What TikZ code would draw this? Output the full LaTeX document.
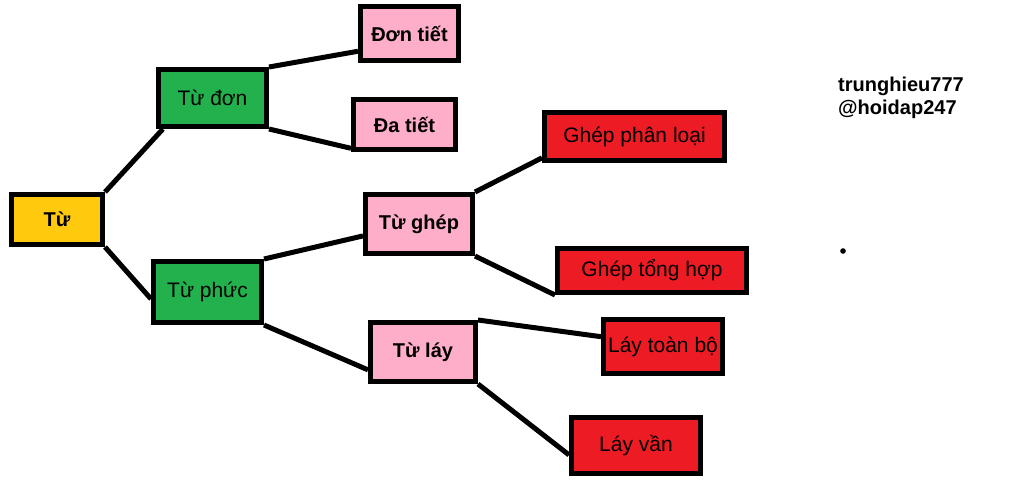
\documentclass[tikz,border=0pt]{standalone}
\usepackage{fontspec}
\setmainfont{Liberation Sans}
\usetikzlibrary{shapes}

\definecolor{gold}{HTML}{FFC90E}
\definecolor{leaf}{HTML}{22B14C}
\definecolor{rose}{HTML}{FFAEC9}
\definecolor{paintred}{HTML}{ED1C24}

\begin{document}
\begin{tikzpicture}[x=1pt, y=-1pt,
    box/.style = {draw, rectangle, line width=5pt, inner sep=0pt, font=\fontsize{21}{25}\selectfont},
    root/.style = {box, fill=gold, font=\bfseries\fontsize{20}{24}\selectfont},
    branch/.style = {box, fill=leaf},
    kind/.style = {box, fill=rose, font=\bfseries\fontsize{20}{24}\selectfont},
    sub/.style = {box, fill=paintred},
    link/.style = {line width=5pt}]
                \useasboundingbox (0, 0) rectangle (1024, 491);

                \node[root, minimum width=91pt, minimum height=50pt] at (57, 219.5) (tu) {Từ};
                \node[branch, minimum width=108pt, minimum height=57pt] at (212.5, 98) (tudon) {Từ đơn};
                \node[branch, minimum width=108pt, minimum height=61pt] at (207.5, 292) (tuphuc) {Từ phức};

                \node[kind, minimum width=98pt, minimum height=54pt] at (409.5, 33.5) (dontiet) {Đơn tiết};
                \node[kind, minimum width=102pt, minimum height=50pt] at (404.5, 124.5) (datiet) {Đa tiết};
                \node[kind, minimum width=107pt, minimum height=59pt] at (419, 224) (tughep) {Từ ghép};
                \node[kind, minimum width=105pt, minimum height=59pt] at (423, 352) (tulay) {Từ láy};

                \node[sub, minimum width=180pt, minimum height=48pt] at (634.5, 136.5) (gheppl) {Ghép phân loại};
                \node[sub, minimum width=189pt, minimum height=44pt] at (652, 270.5) (gheptc) {Ghép tổng hợp};
                \node[sub, minimum width=119pt, minimum height=54pt] at (663, 346.5) (laytb) {Láy toàn bộ};
                \node[sub, minimum width=129pt, minimum height=56pt] at (636, 445.5) (layvan) {Láy vần};

                \node[anchor=north west, inner sep=0pt, align=left, font=\bfseries\fontsize{20}{23}\selectfont] at (838, 77) (credit) {trunghieu777\\@hoidap247};
                \fill (843, 251) circle (2.8pt);

                \draw [link] (tu.north east) -- (tudon.212);
                \draw [link] (tu.south east) -- (tuphuc.187);

                \draw [link] (tudon.north east) -- (dontiet.199);
                \draw [link] (tudon.south east) -- (datiet.204);
                \draw [link] (tuphuc.north east) -- (tughep.192);
                \draw [link] (tuphuc.south east) -- (tulay.198);

                \draw [link] (tughep.north east) -- (gheppl.193);
                \draw [link] (tughep.south east) -- (gheptc.south west);
                \draw [link] (tulay.north east) -- (laytb.171);
                \draw [link] (tulay.south east) -- (layvan.188);
            \end{tikzpicture}
\end{document}
